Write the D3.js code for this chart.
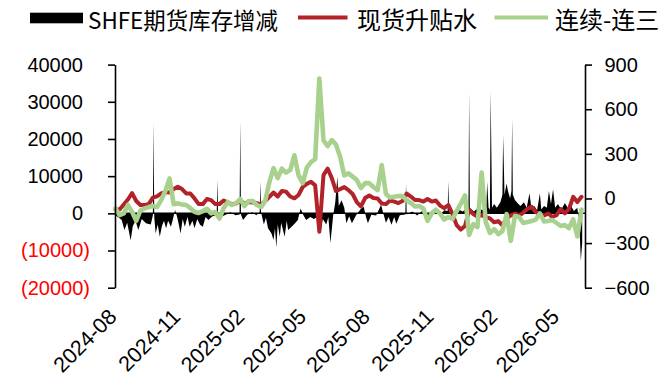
<!DOCTYPE html>
<html>
<head>
<meta charset="utf-8">
<script src="https://cdn.jsdelivr.net/npm/d3@7"></script>
<style>
  html, body { margin: 0; padding: 0; background: #fff; }
  svg { display: block; }
</style>
</head>
<body>
<svg id="chart" width="671" height="378"></svg>
<script>
// Observation dates for the two spread lines
const obsDates = [
  "2024-07-29","2024-08-04","2024-08-10","2024-08-16","2024-08-22","2024-08-28","2024-09-03","2024-09-09","2024-09-15","2024-09-21",
  "2024-09-27","2024-10-03","2024-10-09","2024-10-15","2024-10-21","2024-10-27","2024-11-02","2024-11-08","2024-11-14","2024-11-20",
  "2024-11-26","2024-12-02","2024-12-08","2024-12-14","2024-12-20","2024-12-26","2025-01-01","2025-01-07","2025-01-13","2025-01-19",
  "2025-01-25","2025-01-31","2025-02-06","2025-02-12","2025-02-18","2025-02-24","2025-03-02","2025-03-08","2025-03-14","2025-03-20",
  "2025-03-26","2025-04-01","2025-04-07","2025-04-13","2025-04-19","2025-04-25","2025-05-01","2025-05-07","2025-05-13","2025-05-19",
  "2025-05-25","2025-05-31","2025-06-06","2025-06-12","2025-06-18","2025-06-24","2025-06-30","2025-07-06","2025-07-12","2025-07-18",
  "2025-07-24","2025-07-30","2025-08-05","2025-08-11","2025-08-17","2025-08-23","2025-08-29","2025-09-04","2025-09-10","2025-09-16",
  "2025-09-22","2025-09-28","2025-10-04","2025-10-10","2025-10-16","2025-10-22","2025-10-28","2025-11-03","2025-11-09","2025-11-15",
  "2025-11-21","2025-11-27","2025-12-03","2025-12-09","2025-12-15","2025-12-21","2025-12-27","2026-01-02","2026-01-08","2026-01-14",
  "2026-01-20","2026-01-26","2026-02-01","2026-02-07","2026-02-13","2026-02-19","2026-02-25","2026-03-03","2026-03-09","2026-03-15",
  "2026-03-21","2026-03-27","2026-04-02","2026-04-08","2026-04-14","2026-04-20","2026-04-26","2026-05-02","2026-05-08","2026-05-14",
  "2026-05-20","2026-05-26","2026-06-01"
];

// 现货升贴水 (right axis)
const basis = [
  -75,-74,-40,-7,36,-17,-44,-44,-38,6,
  14,34,43,40,63,79,63,34,33,1,
  -38,-38,-4,-11,-38,-38,-14,-28,-38,-34,
  -14,-33,-24,-28,-31,-44,-17,11,40,13,
  50,46,13,1,23,77,98,112,88,-224,
  157,201,137,50,63,77,56,30,-24,-54,
  3,20,3,0,-34,-38,-14,-21,-31,-17,
  33,13,-11,-11,-21,-4,-21,-14,-48,-65,
  -44,-105,-179,-209,-185,-78,-105,-122,-112,-125,
  -134,-160,-152,-180,-132,-115,-101,-115,-95,-71,
  -56,-91,-108,-115,-101,-125,-112,-71,-100,-71,
  11,-24,11
];

// 连续-连三 (right axis)
const spread = [
  -67,-112,-101,-44,-90,-150,-81,-67,-58,-51,
  -58,-11,50,135,-38,-33,-41,-44,-65,-89,
  -98,-85,-70,-100,-91,-135,-65,-24,-44,-31,
  -4,-51,-17,-17,-44,-58,-17,110,204,137,
  201,174,191,290,157,103,208,245,265,807,
  390,352,392,362,280,155,169,147,124,70,
  103,103,77,56,225,30,6,11,16,16,
  -11,-31,-54,-51,-67,-150,-100,-75,-101,-142,
  -125,-138,-85,-34,20,-246,-172,-192,175,-159,
  -232,-206,-239,-219,-105,-285,-118,-125,-165,-159,
  -152,-142,-101,-155,-152,-145,-165,-185,-179,-199,
  -140,-255,-75
];

// SHFE期货库存增减 (left axis)
const stockDates = [
  "2024-07-29","2024-08-03","2024-08-07","2024-08-11","2024-08-15","2024-08-20","2024-08-23","2024-08-27","2024-08-31","2024-09-05",
  "2024-09-11","2024-09-18","2024-09-21","2024-09-22","2024-09-23","2024-09-25","2024-09-28","2024-10-01","2024-10-04","2024-10-07",
  "2024-10-10","2024-10-13","2024-10-17","2024-10-20","2024-10-23","2024-10-26","2024-10-28","2024-10-31","2024-11-03","2024-11-06",
  "2024-11-10","2024-11-13","2024-11-17","2024-11-20","2024-11-24","2024-11-28","2024-12-02","2024-12-06","2024-12-10","2024-12-15",
  "2024-12-22","2024-12-23","2024-12-24","2024-12-29","2025-01-04","2025-01-11","2025-01-18","2025-01-24","2025-01-25","2025-01-26",
  "2025-01-29","2025-02-04","2025-02-11","2025-02-17","2025-02-22","2025-02-23","2025-02-24","2025-02-28","2025-03-03","2025-03-06",
  "2025-03-11","2025-03-14","2025-03-16","2025-03-18","2025-03-20","2025-03-23","2025-03-25","2025-03-30","2025-04-02","2025-04-04",
  "2025-04-09","2025-04-14","2025-04-18","2025-04-22","2025-04-26","2025-04-30","2025-05-06","2025-05-11","2025-05-17","2025-05-21",
  "2025-05-24","2025-05-29","2025-06-01","2025-06-04","2025-06-08","2025-06-11","2025-06-14","2025-06-16","2025-06-20","2025-06-24",
  "2025-06-27","2025-07-01","2025-07-05","2025-07-11","2025-07-18","2025-07-22","2025-07-25","2025-07-28","2025-08-02","2025-08-09",
  "2025-08-16","2025-08-20","2025-08-23","2025-08-27","2025-08-31","2025-09-04","2025-09-07","2025-09-12","2025-09-20","2025-09-21",
  "2025-09-22","2025-09-30","2025-10-07","2025-10-14","2025-10-20","2025-10-25","2025-10-31","2025-11-09","2025-11-15","2025-11-20",
  "2025-11-21","2025-11-22","2025-11-28","2025-12-05","2025-12-12","2025-12-18","2025-12-20","2025-12-21","2025-12-22","2025-12-28",
  "2026-01-03","2026-01-09","2026-01-15","2026-01-16","2026-01-18","2026-01-20","2026-01-21","2026-01-23","2026-01-26","2026-01-30",
  "2026-02-04","2026-02-07","2026-02-08","2026-02-10","2026-02-13","2026-02-15","2026-02-18","2026-02-20","2026-02-21","2026-02-22",
  "2026-02-25","2026-03-01","2026-03-05","2026-03-10","2026-03-14","2026-03-18","2026-03-21","2026-03-25","2026-03-29","2026-04-02",
  "2026-04-04","2026-04-08","2026-04-12","2026-04-15","2026-04-18","2026-04-21","2026-04-24","2026-04-28","2026-05-03","2026-05-08",
  "2026-05-12","2026-05-17","2026-05-21","2026-05-26","2026-05-29","2026-05-31","2026-06-02"
];
const stockChange = [
  -500,-1200,-1800,-4500,-2500,-7300,-3500,-2000,-4500,-1500,
  -2700,-3000,-500,24500,-1000,-5400,-3000,-6300,-3500,-2000,
  -4000,-2000,-3600,-1500,900,-1000,-2700,-5400,-1500,-3600,
  -1000,-3600,-2000,-4000,-1500,-3100,-3600,-1000,-1800,-900,
  -300,9000,-500,-900,-400,300,-500,-300,25000,-300,
  -1800,-400,300,-500,300,8600,300,-3000,-1200,-4000,
  -5400,-7200,-4000,-9200,-3000,-6300,-2500,-6300,-2000,-4500,
  -3600,-2700,-1800,1300,-500,-1800,-1000,-1500,-900,-5000,
  -1500,-3000,-1000,-8000,-500,3000,9900,2000,3500,1500,
  -2700,-800,-2700,-500,1200,1800,-800,-2700,-400,-600,
  2300,-500,-2500,-1000,-3100,-1000,-2800,-500,-300,8000,
  -300,500,-600,600,-500,-900,500,-500,800,600,
  8700,300,-300,1000,500,1500,1000,32500,1500,500,
  1500,800,2500,8500,1500,1000,33000,1500,2500,1500,
  3000,5000,21000,5000,8000,6000,4000,6000,25600,5000,
  3600,2700,2000,3000,1500,5400,1000,2000,800,5400,
  1000,2000,1500,6000,2500,6500,1500,2500,1000,2800,
  1500,2000,600,1500,-3000,-12800,-8000
];

const leftTicks = [-20000, -10000, 0, 10000, 20000, 30000, 40000];
const rightTicks = [-600, -300, 0, 300, 600, 900];
const monthLabels = ["2024-08","2024-11","2025-02","2025-05","2025-08","2025-11","2026-02","2026-05"];
const seriesNames = ["SHFE期货库存增减", "现货升贴水", "连续-连三"];
const colors = { stock: "#000000", basis: "#B22229", spread: "#A9D18E" };

const parseDay = d3.timeParse("%Y-%m-%d");
const parseMonth = d3.timeParse("%Y-%m");
const plot = { left: 115, right: 585, top: 64.6, bottom: 287.7 };

// time scale calibrated on the first and last labelled months
const x = d3.scaleTime()
  .domain([new Date(2024, 7, 1), new Date(2026, 4, 1)])
  .range([117.5, 560]);
const yL = d3.scaleLinear().domain([-20000, 40000]).range([plot.bottom, plot.top]);
const yR = d3.scaleLinear().domain([-600, 900]).range([plot.bottom, plot.top]);

const svg = d3.select("#chart");
const tickFont = "'Liberation Sans', Arial, sans-serif";
const cjkFont = "'Noto Sans CJK SC', 'Noto Sans', sans-serif";

// inventory change as a filled area around zero
const stock = stockDates.map((d, i) => ({ date: parseDay(d), v: stockChange[i] }));
svg.append("path")
  .datum(stock)
  .attr("d", d3.area().x(d => x(d.date)).y0(yL(0)).y1(d => yL(d.v)))
  .attr("fill", colors.stock);

// horizontal zero line of the category axis
svg.append("line")
  .attr("x1", plot.left).attr("x2", plot.right)
  .attr("y1", yL(0)).attr("y2", yL(0))
  .attr("stroke", "#000").attr("stroke-width", 1.5);

// spread lines on the right axis
const obs = obsDates.map(parseDay);
const lineGen = d3.line().x((d, i) => x(obs[i])).y(d => yR(d));
svg.append("path")
  .attr("d", lineGen(basis))
  .attr("fill", "none").attr("stroke", colors.basis)
  .attr("stroke-width", 4).attr("stroke-linejoin", "round").attr("stroke-linecap", "round");
svg.append("path")
  .attr("d", lineGen(spread))
  .attr("fill", "none").attr("stroke", colors.spread)
  .attr("stroke-width", 4.6).attr("stroke-linejoin", "round").attr("stroke-linecap", "round");

// left axis
const gL = svg.append("g")
  .attr("transform", `translate(${plot.left},0)`)
  .call(d3.axisLeft(yL).tickValues(leftTicks).tickSize(7).tickSizeOuter(0)
    .tickFormat(d => d < 0 ? `(${Math.abs(d)})` : `${d}`));
gL.select(".domain").attr("stroke-width", 1.6);
gL.selectAll(".tick line").attr("stroke-width", 1.6);
gL.selectAll(".tick text")
  .attr("x", d => d < 0 ? -25 : -32)
  .attr("font-family", tickFont).attr("font-size", 20)
  .attr("fill", d => d < 0 ? "#FF0000" : "#000");

// right axis
const gR = svg.append("g")
  .attr("transform", `translate(${plot.right},0)`)
  .call(d3.axisRight(yR).tickValues(rightTicks).tickSize(7).tickSizeOuter(0).tickFormat(d3.format("d")));
gR.select(".domain").attr("stroke-width", 1.6);
gR.selectAll(".tick line").attr("stroke-width", 1.6);
gR.selectAll(".tick text")
  .attr("x", 19.5)
  .attr("font-family", tickFont).attr("font-size", 20)
  .attr("fill", "#000");

// rotated month labels
svg.append("g").selectAll("text")
  .data(monthLabels)
  .join("text")
  .attr("transform", d => `translate(${x(parseMonth(d)) + 0.5},318) rotate(-45)`)
  .attr("text-anchor", "end")
  .attr("font-family", tickFont).attr("font-size", 21.5)
  .attr("fill", "#000")
  .text(d => d);

// legend
const lg = svg.append("g").attr("font-family", cjkFont).attr("font-size", 23).attr("fill", "#000");
lg.append("rect").attr("x", 30).attr("y", 12.7).attr("width", 53).attr("height", 10.6).attr("fill", colors.stock);
lg.append("text").attr("x", 88).attr("y", 18.5).attr("dominant-baseline", "central")
  .attr("textLength", 190).attr("lengthAdjust", "spacingAndGlyphs")
  .text(seriesNames[0]);
lg.append("line").attr("x1", 298).attr("x2", 347.5).attr("y1", 17.5).attr("y2", 17.5)
  .attr("stroke", colors.basis).attr("stroke-width", 3.8);
lg.append("text").attr("x", 357).attr("y", 18.5).attr("dominant-baseline", "central")
  .attr("font-size", 24).text(seriesNames[1]);
lg.append("line").attr("x1", 494.5).attr("x2", 548).attr("y1", 17.5).attr("y2", 17.5)
  .attr("stroke", colors.spread).attr("stroke-width", 4.2);
lg.append("text").attr("x", 555).attr("y", 18.5).attr("dominant-baseline", "central")
  .attr("font-size", 24).text(seriesNames[2]);
</script>
</body>
</html>
